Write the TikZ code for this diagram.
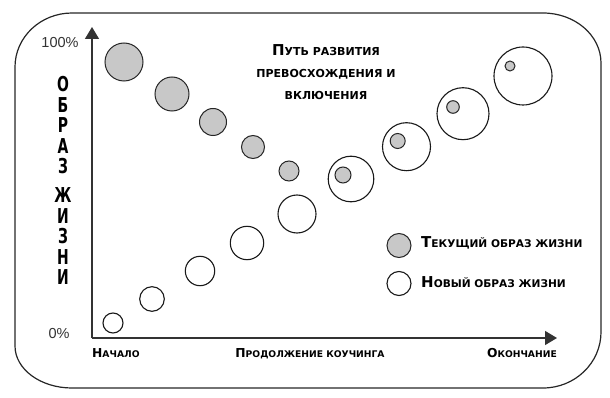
\documentclass[tikz,border=0pt]{standalone}
\usepackage{fontspec}
\setmainfont{DejaVu Sans}
\newfontfamily\condfont[FakeStretch=0.68]{DejaVu Sans}
\newfontfamily\arialfont{Liberation Sans}
\usetikzlibrary{arrows.meta}
\definecolor{curgray}{RGB}{200,200,200}
\newcommand\capbig[2]{{\fontsize{15}{15}\selectfont #1}{\fontsize{11}{11}\selectfont #2}}
\newcommand\caplegend[2]{{\fontsize{15}{15}\selectfont #1}{\fontsize{10.6}{10.6}\selectfont #2}}
\newcommand\capsmall[2]{{\fontsize{12.3}{12.3}\selectfont #1}{\fontsize{9.2}{9.2}\selectfont #2}}
\tikzset{
  frame/.style={draw=black!85, line width=1.2pt},
  axisline/.style={draw=black!80, line width=1.2pt, -{Triangle[length=12pt,width=14pt]}},
  curlife/.style={circle, draw=black!85, fill=curgray, line width=1pt, inner sep=0pt, minimum size=#1},
  newlife/.style={circle, draw=black!90, fill=white, line width=1.1pt, inner sep=0pt, minimum size=#1},
  capstext/.style={font=\bfseries, inner sep=0pt, text=black},
  pct/.style={font=\arialfont\fontsize{14.5}{14.5}\selectfont, text=black!80, inner sep=0pt},
  vlabel/.style={font=\condfont\bfseries\fontsize{20.5}{20.4}\selectfont, align=center, inner sep=0pt}
}
\begin{document}
\begin{tikzpicture}[x=1pt,y=-1pt]
\useasboundingbox (0,0) rectangle (610,398);
% frame
\draw[frame] (72,13) -- (543,13) .. controls (575,13) and (601,35.4) .. (601,63)
  -- (601,332) .. controls (601,362.9) and (575,388) .. (543,388)
  -- (72,388) .. controls (40.5,388) and (15,369.2) .. (15,346)
  -- (15,67) .. controls (15,37.2) and (40.5,13) .. (72,13) -- cycle;
% axes
\coordinate (O) at (92,338);
\coordinate (ytop) at (92,27);
\coordinate (xend) at (557,338);
\draw[axisline] (O) -- (ytop);
\draw[axisline] (O) -- (xend);
% axis labels
\node[pct] (p100) at (60,43) {100\%};
\node[pct] (p0) at (59,334) {0\%};
\node[vlabel, anchor=north] (ylab) at (63,76.5) {О\\Б\\Р\\А\\З\\[9pt]Ж\\И\\З\\Н\\И};
\node[capstext, anchor=base west] (xstart) at (92,357) {\capsmall{Н}{АЧАЛО}};
\node[capstext, anchor=base] (xmid) at (310,357) {\capsmall{П}{РОДОЛЖЕНИЕ КОУЧИНГА}};
\node[capstext, anchor=base east] (xendlab) at (557,357) {\capsmall{О}{КОНЧАНИЕ}};
% title
\node[capstext, anchor=base] (t1) at (326,56) {\capbig{П}{УТЬ РАЗВИТИЯ}};
\node[capstext, anchor=base] (t2) at (326,78) {\capbig{}{ПРЕВОСХОЖДЕНИЯ И}};
\node[capstext, anchor=base] (t3) at (326,100) {\capbig{}{ВКЛЮЧЕНИЯ}};
% current life circles
\node[curlife=38pt] (g1) at (124,62) {};
\node[curlife=34pt] (g2) at (172,94) {};
\node[curlife=27pt] (g3) at (213,122) {};
\node[curlife=23pt] (g4) at (253,147) {};
\node[curlife=20pt] (g5) at (289,171) {};
% new life circles
\node[newlife=20pt] (n1) at (113,323) {};
\node[newlife=24.6pt] (n2) at (152,299) {};
\node[newlife=29.4pt] (n3) at (200,271) {};
\node[newlife=33.4pt] (n4) at (247,243) {};
\node[newlife=38pt] (n5) at (297,214) {};
\node[newlife=45.6pt] (n6) at (351,179) {};
\node[curlife=16pt] (g6) at (343,175) {};
\node[newlife=48pt] (n7) at (406.5,146.7) {};
\node[curlife=15pt] (g7) at (397.7,141) {};
\node[newlife=52pt] (n8) at (463,113.7) {};
\node[curlife=12.6pt] (g8) at (453,107) {};
\node[newlife=58pt] (n9) at (523,76) {};
\node[curlife=10pt] (g9) at (510,66) {};
% legend
\node[curlife=24pt] (lg) at (399,245.5) {};
\node[newlife=24pt] (ln) at (399,283.5) {};
\node[capstext, anchor=base west] (lgt) at (421,247) {\caplegend{Т}{ЕКУЩИЙ ОБРАЗ ЖИЗНИ}};
\node[capstext, anchor=base west] (lnt) at (421,287) {\caplegend{Н}{ОВЫЙ ОБРАЗ ЖИЗНИ}};
\end{tikzpicture}
\end{document}
